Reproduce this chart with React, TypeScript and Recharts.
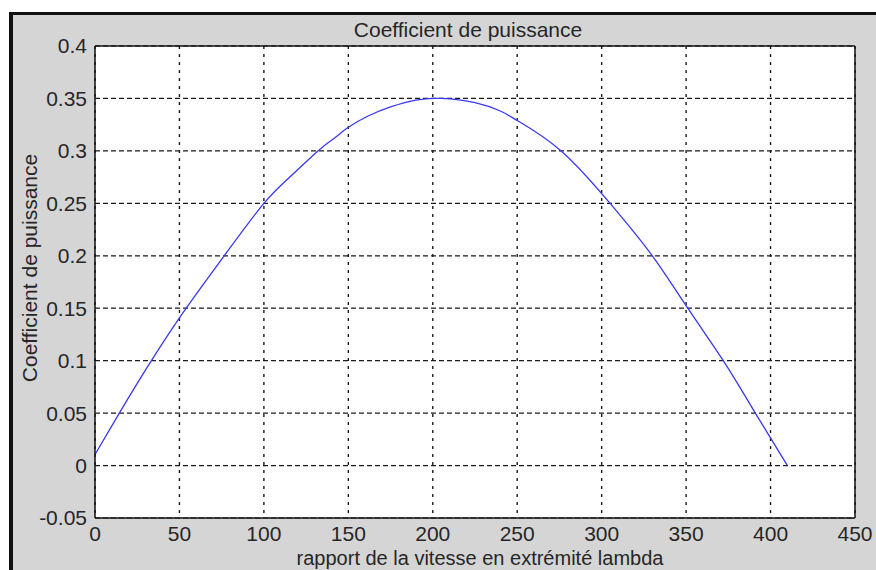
import React from "react";
import {
  LineChart,
  Line,
  XAxis,
  YAxis,
  CartesianGrid,
  ReferenceLine,
} from "recharts";

// values
const lambdaValues = [0, 14.4, 33.4, 54, 76.5, 100, 116, 132, 142, 150, 162, 175, 190, 205, 225, 240, 250, 276, 305, 330, 351, 372, 391, 410];
const cpValues = [0.0105, 0.05, 0.1, 0.15, 0.2, 0.25, 0.276, 0.3, 0.3125, 0.3225, 0.3335, 0.342, 0.3485, 0.35, 0.346, 0.338, 0.329, 0.3, 0.25, 0.2, 0.15, 0.1, 0.05, 0];

const xTicks = [0, 50, 100, 150, 200, 250, 300, 350, 400, 450];
const yTicks = [-0.05, 0, 0.05, 0.1, 0.15, 0.2, 0.25, 0.3, 0.35, 0.4];

const title = "Coefficient de puissance";
const xLabel = "rapport de la vitesse en extrémité lambda";
const yLabel = "Coefficient de puissance";

const data = lambdaValues.map((l, i) => ({ lambda: l, cp: cpValues[i] }));

const FONT = "'Liberation Sans', Arial, sans-serif";
const TEXT = "#262626";

export default function App() {
  const tickStyle = { fontSize: 21, fill: TEXT, fontFamily: FONT };

  return (
    <div style={{ position: "absolute", left: 0, top: 0, width: 876, height: 570, background: "#fff", overflow: "hidden" }}>
      <div
        style={{
          position: "absolute",
          left: 9,
          top: 12,
          right: 0,
          bottom: 0,
          background: "#d5d5d5",
          borderTop: "3px solid #111",
          borderLeft: "4px solid #111",
        }}
      />
      <div style={{ position: "absolute", left: 0, top: 0 }}>
        <LineChart
          width={876}
          height={570}
          data={data}
          margin={{ top: 46, right: 21, bottom: 22, left: 35 }}
        >
          <CartesianGrid fill="#fff" vertical={false} stroke="#1a1a1a" strokeDasharray="5 3" strokeWidth={1.2} />
          <CartesianGrid horizontal={false} stroke="#1a1a1a" strokeDasharray="3 5" strokeWidth={1.4} />
          <XAxis
            dataKey="lambda"
            type="number"
            domain={[0, 450]}
            ticks={xTicks}
            tickLine={false}
            tickMargin={2}
            height={30}
            axisLine={{ stroke: "#111", strokeWidth: 1.5 }}
            tick={tickStyle}
            interval={0}
          />
          <YAxis
            type="number"
            domain={[-0.05, 0.4]}
            ticks={yTicks}
            tickLine={false}
            tickMargin={2}
            width={60}
            axisLine={{ stroke: "#111", strokeWidth: 1.5 }}
            tick={tickStyle}
            interval={0}
          />
          <ReferenceLine y={0.4} stroke="#111" strokeWidth={1.5} />
          <ReferenceLine x={450} stroke="#111" strokeWidth={1.5} />
          <Line
            type="natural"
            dataKey="cp"
            stroke="#3838f0"
            strokeWidth={1.3}
            dot={false}
            isAnimationActive={false}
          />
          <text x={468} y={37} textAnchor="middle" fontSize={21} fill={TEXT} fontFamily={FONT}>
            {title}
          </text>
          <text x={480} y={565} textAnchor="middle" fontSize={20} fill={TEXT} fontFamily={FONT}>
            {xLabel}
          </text>
          <text
            x={37}
            y={268}
            transform="rotate(-90 37 268)"
            textAnchor="middle"
            fontSize={21}
            fill={TEXT}
            fontFamily={FONT}
          >
            {yLabel}
          </text>
        </LineChart>
      </div>
    </div>
  );
}
